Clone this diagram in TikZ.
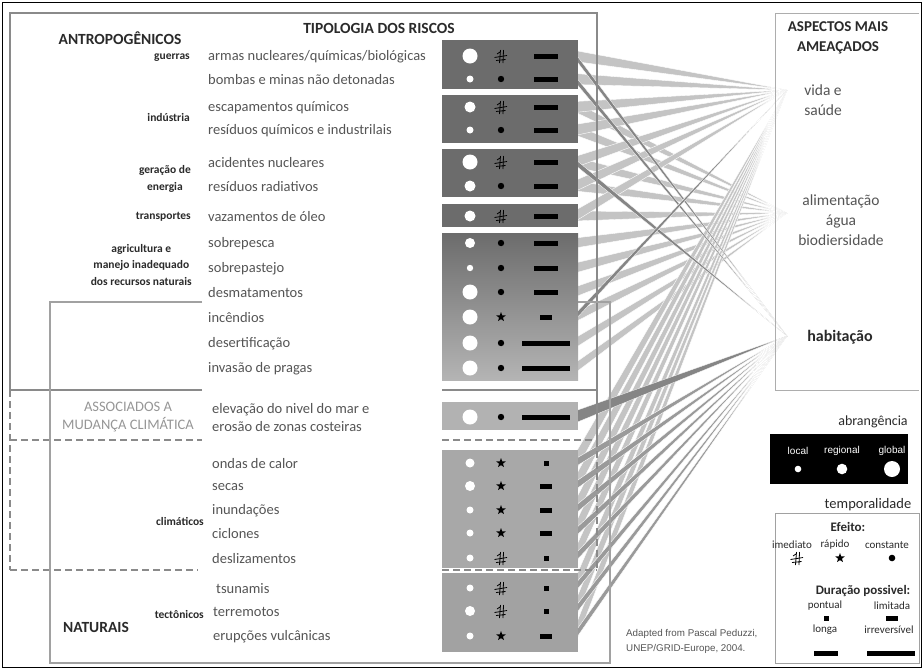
\documentclass[tikz,border=0pt]{standalone}
\usepackage{fontspec}
\setmainfont{Carlito}
\newfontfamily\creditfont{Liberation Sans}
\usetikzlibrary{positioning, shapes.geometric, calc}
\definecolor{boxdark}{HTML}{6C6C6C}
\definecolor{boxfade}{HTML}{B4B4B4}
\definecolor{boxsea}{HTML}{B2B2B2}
\definecolor{boxclim}{HTML}{A8A8A8}
\definecolor{boxtect}{HTML}{A2A2A2}
\definecolor{frameg}{HTML}{8A8A8A}
\definecolor{bandlight}{HTML}{C4C4C4}
\definecolor{bandmid}{HTML}{9A9A9A}
\definecolor{banddark}{HTML}{858585}
\definecolor{itemtext}{HTML}{555555}
\definecolor{headtext}{HTML}{2A2A2A}
\tikzset{
  heading/.style={font=\fontsize{15.5}{18}\selectfont\bfseries, text=headtext,
    align=center, inner sep=0pt},
  catlabel/.style={font=\fontsize{11.5}{16.5}\selectfont\bfseries, text=headtext,
    align=center, inner sep=0pt, anchor=east},
  item/.style={font=\fontsize{14.5}{18}\selectfont, text=itemtext,
    align=left, inner sep=0pt, anchor=west},
  aspect/.style={font=\fontsize{15.5}{20}\selectfont, text=itemtext,
    align=center, inner sep=0pt},
  legtext/.style={font=\fontsize{11}{12}\selectfont, text=headtext, inner sep=0pt},
  leghead/.style={font=\fontsize{13}{14}\selectfont\bfseries, text=headtext, inner sep=0pt},
  lightband/.style={fill=bandlight, draw=white, line width=0.4pt},
  midband/.style={fill=bandmid, draw=white, line width=0.4pt},
  darkband/.style={fill=banddark, draw=white, line width=0.3pt},
  frameline/.style={draw=frameg, line width=1.6pt},
  naturalline/.style={draw=frameg!80, line width=1.2pt},
  dashline/.style={draw=frameg, line width=1.3pt, dash pattern=on 7pt off 4pt},
  starmark/.style={star, star points=5, star point ratio=2.4, fill=black,
    inner sep=0pt, minimum size=10pt},
  pics/imediato/.style={code={
    \draw[line width=0.8pt] (-6.5,1.5) -- (6,-0.5) (-5,4.5) -- (4.5,3.5)
      (-1.5,7) -- (-0.5,-6) (2,7) -- (2.5,-6) (-1,-4) -- (-4,-2);
  }},
}
\begin{document}
\begin{tikzpicture}[x=1pt, y=-1pt]
  \useasboundingbox (0,0) rectangle (924,670);
  \fill[white] (0,0) rectangle (924,670);

  % targets of the connectors
  \coordinate (ptvida) at (787,90);
  \coordinate (ptalim) at (787,213);
  \coordinate (pthab) at (787,336);

  % start of each row on the right side of the icon boxes
  \foreach \y [count=\i] in {56,79,107,130,162,186,216,243,268,292,317,343,368,
      417,463,486,510,533,558,588,611,636}
    \coordinate (row\i) at (575,\y);

  % connectors
  \foreach \i in {3,4,5,6,7,8,9,10,11,12,13}
    \fill[lightband] ($(row\i)+(0,-5)$) -- ($(row\i)+(0,5)$) -- (ptalim) -- cycle;
  \foreach \i in {1,2,3,4,5,6,7}
    \fill[lightband] ($(row\i)+(0,-5.5)$) -- ($(row\i)+(0,5.5)$) -- (ptvida) -- cycle;
  \foreach \i in {15,16,17,18,19,20,21,22}
    \fill[lightband] ($(row\i)+(0,-9)$) -- ($(row\i)+(0,9)$) -- (ptvida) -- cycle;
  \foreach \i in {15,16,17,18,19,20,21,22}
    \fill[midband] ($(row\i)+(0,-4)$) -- ($(row\i)+(0,4)$) -- (pthab) -- cycle;
  \fill[darkband] ($(row14)+(0,-6)$) -- ($(row14)+(0,6)$) -- (pthab) -- cycle;
  \foreach \i in {1,2,5}
    \fill[darkband] ($(row\i)+(0,-3)$) -- ($(row\i)+(0,3)$) -- (pthab) -- cycle;
  \fill[darkband] ($(row11)+(0,-3)$) -- ($(row11)+(0,3)$) -- (ptvida) -- cycle;

  % outer frame and group boxes
  \draw[black, line width=0.8pt] (2.5,2.5) rectangle (921.5,667.5);
  \draw[frameline] (202,390) -- (10,390) -- (10,13) -- (597,13) -- (597,440);
  \draw[frameline] (442,390) -- (597,390);
  \draw[dashline] (10,390) -- (10,570);
  \draw[dashline] (10,440) -- (202,440) (442,440) -- (597,440);
  \draw[dashline] (597,440) -- (597,570);
  \draw[dashline] (10,570) -- (198,570) (442,570) -- (597,570);
  \draw[naturalline] (202,302) -- (50,302) -- (50,663) -- (610,663) -- (610,302) -- (578,302);

  % icon boxes
  \fill[boxdark] (442,40) rectangle (578,89);
  \fill[boxdark] (442,95) rectangle (578,143);
  \fill[boxdark] (442,149) rectangle (578,197);
  \fill[boxdark] (442,204) rectangle (578,227);
  \shade[top color=boxdark, bottom color=boxfade] (442,233) rectangle (578,380);
  \fill[boxsea] (442,402) rectangle (578,430);
  \fill[boxclim] (442,450) rectangle (578,568);
  \fill[boxtect] (442,573) rectangle (578,652);

  % risk rows: y / circle / effect / duration / text x / text
  \foreach \y/\r/\ef/\w/\tx/\txt [count=\i] in {
      56/7.5/1/24/208/{armas nucleares/químicas/biológicas},
      79/3.5/3/24/208/{bombas e minas não detonadas},
      107/5.5/1/24/208/{escapamentos químicos},
      130/3.5/3/24/208/{resíduos químicos e industrilais},
      162/7.5/1/24/208/{acidentes nucleares},
      186/5.5/3/24/208/{resíduos radiativos},
      216/5.5/1/24/208/{vazamentos de óleo},
      243/5/3/24/208/{sobrepesca},
      268/3.2/3/24/208/{sobrepastejo},
      292/7.5/3/24/208/{desmatamentos},
      317/7.5/2/12/208/{incêndios},
      343/7.5/3/48/208/{desertificação},
      368/7.5/3/48/208/{invasão de pragas},
      417/7.5/3/48/212/{elevação do nivel do mar e\\erosão de zonas costeiras},
      463/4.5/2/5/212/{ondas de calor},
      486/5/2/12/212/{secas},
      510/3.5/2/12/212/{inundações},
      533/3.5/2/12/212/{ciclones},
      558/3.5/1/5/212/{deslizamentos},
      588/3.5/1/5/216/{tsunamis},
      611/5/1/5/213/{terremotos},
      636/3.5/2/12/213/{erupções vulcânicas}} {
    \node[item] (item\i) at (\tx,\y+1) {\txt};
    \fill[white] (470,\y) circle (\r);
    \ifcase\ef\or
      \pic at (501,\y) {imediato};
    \or
      \node[starmark] (eff\i) at (501,\y) {};
    \or
      \fill[black] (501,\y) circle (3.2);
    \fi
    \fill[black] ({546-\w/2},{\y-2.5}) rectangle ({546+\w/2},{\y+2.5});
  }

  % group labels
  \node[heading] (antrop) at (120,38) {ANTROPOGÊNICOS};
  \node[heading] (tipol) at (379,28) {TIPOLOGIA DOS RISCOS};
  \node[catlabel] (guerras) at (190,58) {guerras};
  \node[catlabel] (industria) at (190,118) {indústria};
  \node[catlabel] (energia) at (191,179) {geração de\\energia};
  \node[catlabel] (transp) at (191,217) {transportes};
  \node[catlabel] (agric) at (192,265) {agricultura e\\manejo inadequado\\dos recursos naturais};
  \node[font=\fontsize{14.5}{18}\selectfont, text=frameg!90, align=center,
        inner sep=0pt] (assoc) at (128,417) {ASSOCIADOS A\\MUDANÇA CLIMÁTICA};
  \node[catlabel] (climat) at (204,521) {climáticos};
  \node[catlabel] (tecton) at (204,614) {tectônicos};
  \node[heading] (natur) at (96,627) {NATURAIS};

  % aspects
  \draw[frameg!70, line width=1pt] (919,13) -- (775,13) -- (775,390) -- (919,390);
  \node[heading, font=\fontsize{15}{20}\selectfont\bfseries] (aspect) at (838,38)
    {ASPECTOS MAIS\\AMEAÇADOS};
  \node[aspect] (vida) at (823,100) {vida e\\saúde};
  \node[aspect] (alim) at (841,220) {alimentação\\água\\biodiersidade};
  \node[aspect, font=\fontsize{16}{18}\selectfont\bfseries, text=headtext] (habit)
    at (840,337) {habitação};

  % legend: abrangencia
  \node[font=\fontsize{14}{15}\selectfont, text=headtext, inner sep=0pt] (abrang)
    at (873,422) {abrangência};
  \node[fill=black, minimum width=138pt, minimum height=50pt, inner sep=0pt,
        below=6pt of abrang.south east, anchor=north east] (abrbox) {};
  \node[legtext, text=white, font=\creditfont\fontsize{10}{10}\selectfont] (local)
    at (798,451) {local};
  \node[legtext, text=white, font=\creditfont\fontsize{10}{10}\selectfont] (regional)
    at (842,451) {regional};
  \node[legtext, text=white, font=\creditfont\fontsize{10}{10}\selectfont] (global)
    at (892,451) {global};
  \fill[white] (798,469) circle (3.3) (842,469) circle (5.3) (892,469) circle (8);

  % legend: temporalidade
  \node[font=\fontsize{14.5}{15}\selectfont, text=headtext, inner sep=0pt] (tempor)
    at (868,505) {temporalidade};
  \draw[frameg!80, line width=1pt] (775,513) rectangle (919,663);
  \node[leghead] (efeito) at (848,527) {Efeito:};
  \node[legtext] (imed) at (792,545) {imediato};
  \node[legtext] (rapid) at (835,545) {rápido};
  \node[legtext] (const) at (887,545) {constante};
  \pic at (797,558) {imediato};
  \node[starmark] (legstar) at (840,558) {};
  \fill[black] (892,558) circle (3.3);
  \node[leghead] (durac) at (863,591) {Duração possivel:};
  \node[legtext] (pont) at (825,606) {pontual};
  \node[legtext] (limit) at (892,606) {limitada};
  \fill[black] (823.5,615.5) rectangle (828.5,620.5);
  \fill[black] (886,615.5) rectangle (898,620.5);
  \node[legtext] (longa) at (825,630) {longa};
  \node[legtext] (irrev) at (889,630) {irreversível};
  \fill[black] (814,650.5) rectangle (838,655.5);
  \fill[black] (867,650.5) rectangle (915,655.5);

  % credit
  \node[font=\creditfont\fontsize{9.8}{15}\selectfont, text=itemtext, align=left,
        inner sep=0pt, anchor=west] (credit) at (626,641)
    {Adapted from Pascal Peduzzi,\\UNEP/GRID-Europe, 2004.};
\end{tikzpicture}
\end{document}
